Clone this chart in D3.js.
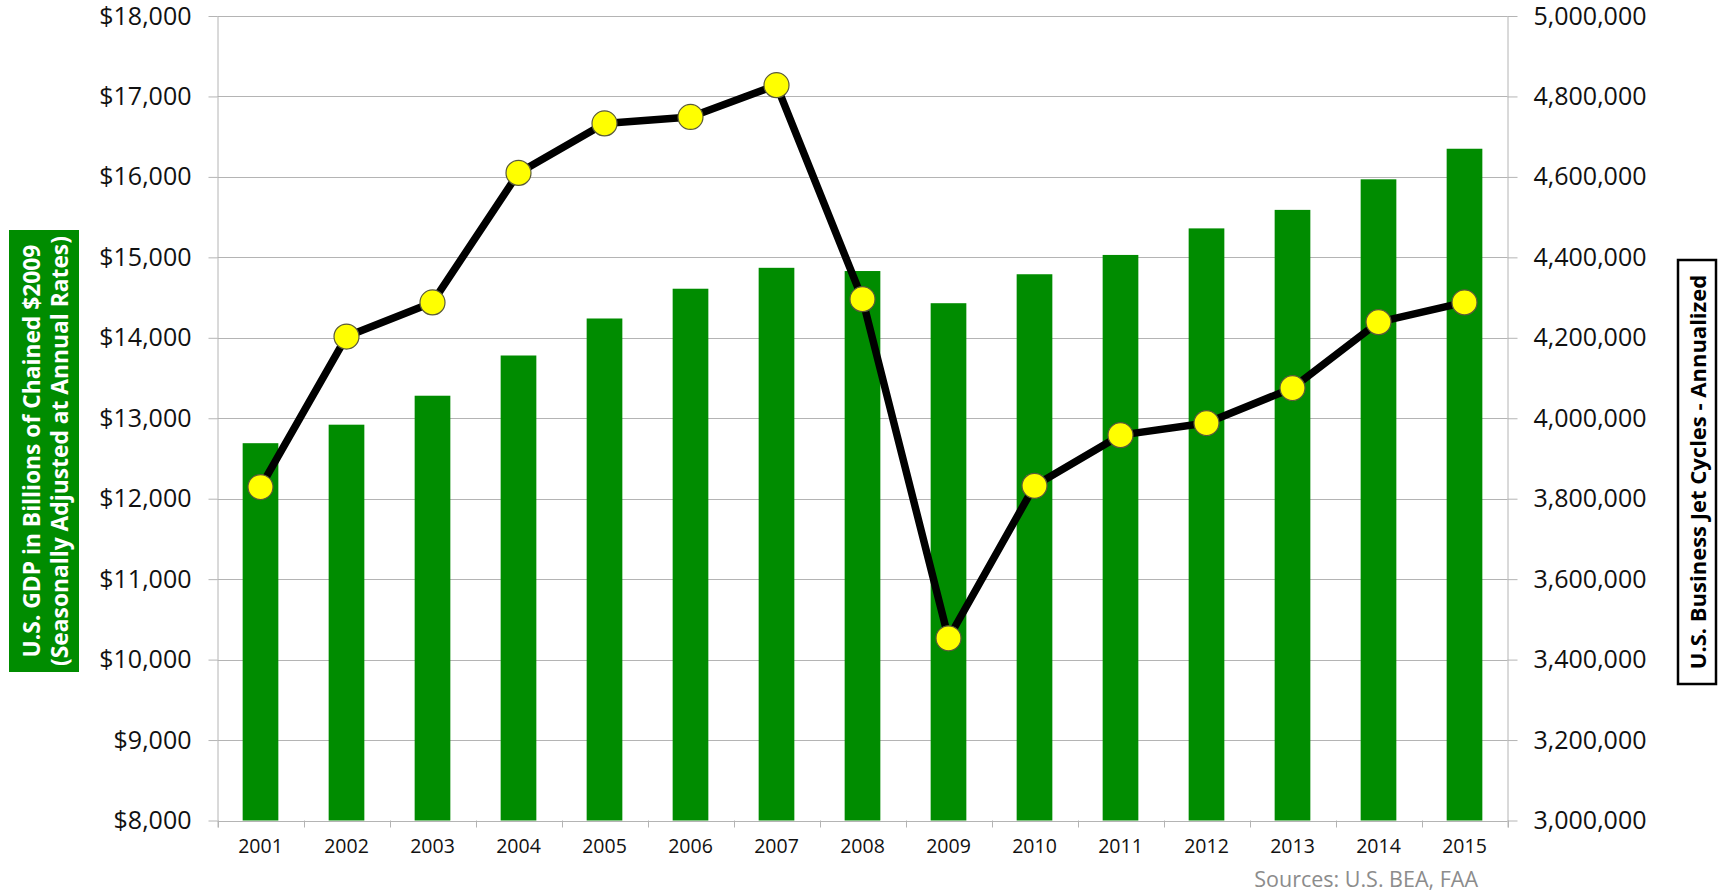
<!DOCTYPE html>
<meta charset="utf-8">
<script src="https://d3js.org/d3.v7.min.js"></script>
<style>
  body { margin: 0; background: #fff; }
  svg { display: block; font-family: "Open Sans", "Liberation Sans", sans-serif; }
</style>
<div id="chart"></div>
<script>

// data
var years = ["2001", "2002", "2003", "2004", "2005", "2006", "2007", "2008",
             "2009", "2010", "2011", "2012", "2013", "2014", "2015"];
var gdp = [12690, 12920, 13280, 13780, 14240, 14610, 14870, 14830,
           14430, 14790, 15030, 15360, 15590, 15970, 16350];
var jetCycles = [3829000, 4203000, 4288000, 4610000, 4733000, 4749000, 4828000, 4296000,
                 3453000, 3832000, 3958000, 3988000, 4075000, 4239000, 4288000];
var gdpTicks = [8000, 9000, 10000, 11000, 12000, 13000, 14000, 15000, 16000, 17000, 18000];
var cycleTicks = [3000000, 3200000, 3400000, 3600000, 3800000, 4000000, 4200000, 4400000, 4600000, 4800000, 5000000];

var W = 1720, H = 892;
var plotLeft = 217.5, plotRight = 1507.5, plotTop = 16, plotBottom = 820.5;
var gridColor = "#b4b4b4";
var green = "#008c00";

var svg = d3.select("#chart").append("svg")
    .attr("width", W)
    .attr("height", H);

var x = d3.scaleBand()
    .domain(years)
    .range([plotLeft, plotRight])
    .paddingInner(0.585)
    .paddingOuter(0.2925);

var yL = d3.scaleLinear().domain([8000, 18000]).range([plotBottom, plotTop]);
var yR = d3.scaleLinear().domain([3000000, 5000000]).range([plotBottom, plotTop]);

// gridlines
svg.append("g")
  .selectAll("line")
  .data(gdpTicks)
  .join("line")
    .attr("x1", plotLeft).attr("x2", plotRight)
    .attr("y1", function(d) { return Math.round(yL(d)) + 0.5; })
    .attr("y2", function(d) { return Math.round(yL(d)) + 0.5; })
    .attr("stroke", gridColor)
    .attr("stroke-width", 1);

// bars
svg.append("g")
  .selectAll("rect")
  .data(years)
  .join("rect")
    .attr("x", function(d) { return x(d); })
    .attr("width", x.bandwidth())
    .attr("y", function(d, i) { return yL(gdp[i]); })
    .attr("height", function(d, i) { return plotBottom - yL(gdp[i]); })
    .attr("fill", green);

// left axis
var axL = svg.append("g")
    .attr("transform", "translate(" + plotLeft + ",0)")
    .call(d3.axisLeft(yL)
      .tickValues(gdpTicks)
      .tickSize(9)
      .tickPadding(17)
      .tickFormat(function(d) { return "$" + d3.format(",")(d); }));
axL.attr("font-family", null).attr("font-size", 25);
axL.select(".domain").remove();
axL.selectAll(".tick line").attr("stroke", gridColor);
axL.selectAll("text").attr("fill", "#111");
axL.append("line")
    .attr("x1", 0.5).attr("x2", 0.5)
    .attr("y1", plotTop).attr("y2", plotBottom + 7)
    .attr("stroke", gridColor);

// right axis
var axR = svg.append("g")
    .attr("transform", "translate(" + plotRight + ",0)")
    .call(d3.axisRight(yR)
      .tickValues(cycleTicks)
      .tickSize(10)
      .tickPadding(16)
      .tickFormat(d3.format(",")));
axR.attr("font-family", null).attr("font-size", 25);
axR.select(".domain").remove();
axR.selectAll(".tick line").attr("stroke", gridColor);
axR.selectAll("text").attr("fill", "#111");
axR.append("line")
    .attr("x1", 0.5).attr("x2", 0.5)
    .attr("y1", plotTop).attr("y2", plotBottom + 7)
    .attr("stroke", gridColor);

// bottom axis: boundary ticks + year labels
var step = x.step();
var bounds = years.map(function(d) { return x(d) + x.bandwidth() / 2 - step / 2; });
bounds.push(plotRight);
svg.append("g")
  .selectAll("line")
  .data(bounds)
  .join("line")
    .attr("x1", function(d) { return Math.round(d) + 0.5; })
    .attr("x2", function(d) { return Math.round(d) + 0.5; })
    .attr("y1", plotBottom).attr("y2", plotBottom + 7)
    .attr("stroke", gridColor);

var axB = svg.append("g")
    .attr("transform", "translate(0," + plotBottom + ")")
    .call(d3.axisBottom(x).tickSize(0).tickPadding(19));
axB.attr("font-family", null).attr("font-size", 19.5);
axB.select(".domain").remove();
axB.selectAll("text").attr("fill", "#111");

// line + markers
var line = d3.line()
    .x(function(d, i) { return x(years[i]) + x.bandwidth() / 2; })
    .y(function(d) { return yR(d); });

svg.append("path")
    .datum(jetCycles)
    .attr("fill", "none")
    .attr("stroke", "#000")
    .attr("stroke-width", 7.5)
    .attr("stroke-linejoin", "round")
    .attr("d", line);

svg.append("g")
  .selectAll("circle")
  .data(jetCycles)
  .join("circle")
    .attr("cx", function(d, i) { return x(years[i]) + x.bandwidth() / 2; })
    .attr("cy", function(d) { return yR(d); })
    .attr("r", 12.5)
    .attr("fill", "#ffff00")
    .attr("stroke", "#5a5a3a")
    .attr("stroke-width", 1.2);

// left title (green box)
svg.append("rect")
    .attr("x", 9).attr("y", 230)
    .attr("width", 70).attr("height", 442)
    .attr("fill", green);
var tl = svg.append("text")
    .attr("transform", "translate(44,451) rotate(-90)")
    .attr("text-anchor", "middle")
    .attr("font-weight", "bold")
    .attr("font-size", 22.8)
    .attr("fill", "#fff");
tl.append("tspan").attr("x", 0).attr("y", -4).text("U.S. GDP in Billions of Chained $2009");
tl.append("tspan").attr("x", 0).attr("y", 24).text("(Seasonally Adjusted at Annual Rates)");

// right title (boxed)
svg.append("rect")
    .attr("x", 1678).attr("y", 260)
    .attr("width", 38).attr("height", 424)
    .attr("fill", "#fff")
    .attr("stroke", "#000")
    .attr("stroke-width", 2.5);
svg.append("text")
    .attr("transform", "translate(1705.5,472) rotate(-90)")
    .attr("text-anchor", "middle")
    .attr("font-weight", "bold")
    .attr("font-size", 22)
    .attr("fill", "#000")
    .text("U.S. Business Jet Cycles - Annualized");

// source note
svg.append("text")
    .attr("x", 1478).attr("y", 887)
    .attr("text-anchor", "end")
    .attr("font-size", 21.5)
    .attr("fill", "#8c8c8c")
    .text("Sources: U.S. BEA, FAA");

</script>
